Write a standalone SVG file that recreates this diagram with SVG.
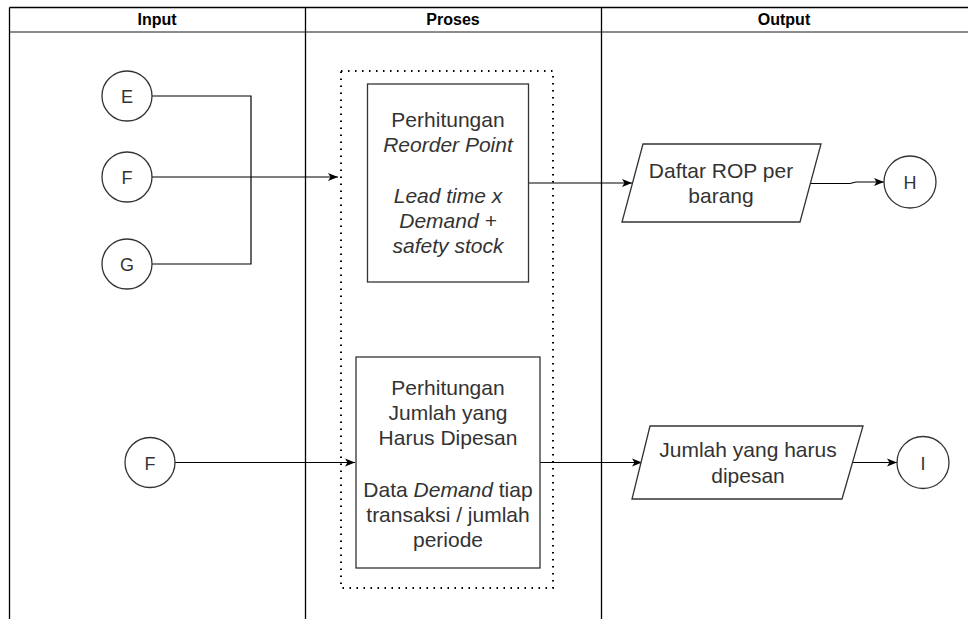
<svg xmlns="http://www.w3.org/2000/svg" width="968" height="619" viewBox="0 0 968 619">
<defs>
<marker id="arr" viewBox="0 0 10 10" refX="10" refY="5" markerWidth="10" markerHeight="10" markerUnits="userSpaceOnUse" orient="auto">
<path d="M0,1 L10,5 L0,9 L2.5,5 Z" fill="#000"/>
</marker>
</defs>
<style>
text{font-family:"Liberation Sans",Arial,sans-serif;fill:#333;}
.hd{font-size:16px;font-weight:bold;text-anchor:middle;fill:#000;}
.t{font-size:21px;text-anchor:middle;}
.c{font-size:18px;text-anchor:middle;}
.i{font-style:italic;}
.node{fill:#fff;stroke:#333;stroke-width:1.3;}
.lane{stroke:#000;stroke-width:1.3;fill:none;}
.conn{stroke:#000;stroke-width:1.2;fill:none;}
.dot{fill:none;stroke:#000;stroke-width:2;stroke-dasharray:1.5 5.5;}
</style>
<rect width="968" height="619" fill="#fff"/>
<g id="lanes">
<line class="lane" x1="9.5" y1="7.5" x2="968" y2="7.5"/>
<line x1="9.5" y1="32" x2="968" y2="32" stroke="#666" stroke-width="1.6"/>
<line class="lane" x1="9.5" y1="7.5" x2="9.5" y2="619"/>
<line class="lane" x1="305.5" y1="7.5" x2="305.5" y2="619"/>
<line class="lane" x1="601.5" y1="7.5" x2="601.5" y2="619"/>
<text class="hd" x="157" y="25">Input</text>
<text class="hd" x="453" y="25">Proses</text>
<text class="hd" x="784" y="25">Output</text>
</g>
<g id="group-dotted">
<rect class="dot" x="341" y="71" width="212" height="517"/>
</g>
<g id="connectors">
<polyline class="conn" points="152,96 251,96 251,264 152,264"/>
<line class="conn" x1="152" y1="177" x2="338" y2="177" marker-end="url(#arr)"/>
<line class="conn" x1="529" y1="183" x2="632" y2="183" marker-end="url(#arr)"/>
<polyline class="conn" points="811,183.5 850,183.5 856,182 884,182" marker-end="url(#arr)"/>
<line class="conn" x1="175" y1="462.5" x2="355" y2="462.5" marker-end="url(#arr)"/>
<line class="conn" x1="540" y1="462.5" x2="642" y2="462.5" marker-end="url(#arr)"/>
<line class="conn" x1="853" y1="462.5" x2="897" y2="462.5" marker-end="url(#arr)"/>
</g>
<g id="node-E"><circle class="node" cx="127" cy="96" r="25"/><text class="c" x="127" y="103">E</text></g>
<g id="node-F1"><circle class="node" cx="127" cy="177" r="25"/><text class="c" x="127" y="184">F</text></g>
<g id="node-G"><circle class="node" cx="127" cy="264" r="25"/><text class="c" x="127" y="271">G</text></g>
<g id="node-F2"><circle class="node" cx="150" cy="462.5" r="25"/><text class="c" x="150" y="469.5">F</text></g>
<g id="node-rop">
<rect class="node" x="367.5" y="84" width="161" height="198"/>
<text class="t" x="448" y="127">Perhitungan</text>
<text class="t i" x="448" y="152">Reorder Point</text>
<text class="t i" x="448" y="203">Lead time x</text>
<text class="t i" x="448" y="228">Demand +</text>
<text class="t i" x="448" y="253">safety stock</text>
</g>
<g id="node-jumlah">
<rect class="node" x="356" y="357" width="184" height="211"/>
<text class="t" x="448" y="395">Perhitungan</text>
<text class="t" x="448" y="420">Jumlah yang</text>
<text class="t" x="448" y="445">Harus Dipesan</text>
<text class="t" x="448" y="497">Data <tspan class="i">Demand</tspan> tiap</text>
<text class="t" x="448" y="522">transaksi / jumlah</text>
<text class="t" x="448" y="547">periode</text>
</g>
<g id="node-daftar">
<polygon class="node" points="643,144 821,144 800,222 622,222"/>
<text class="t" x="721" y="178">Daftar ROP per</text>
<text class="t" x="721" y="203">barang</text>
</g>
<g id="node-jumlahout">
<polygon class="node" points="650,426 863,426 842,499 632,499"/>
<text class="t" x="748" y="457">Jumlah yang harus</text>
<text class="t" x="748" y="483">dipesan</text>
</g>
<g id="node-H"><circle class="node" cx="910" cy="182" r="26"/><text class="c" x="910" y="189">H</text></g>
<g id="node-I"><circle class="node" cx="923" cy="462.5" r="26"/><text class="c" x="923" y="469.5">I</text></g>
</svg>
